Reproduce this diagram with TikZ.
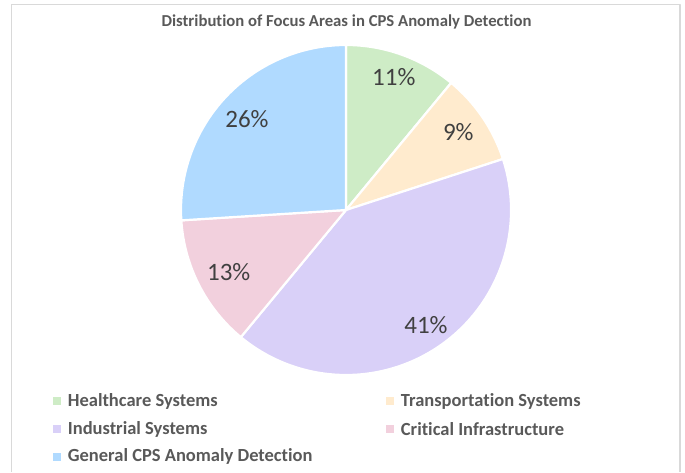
\documentclass[tikz,border=0pt]{standalone}
\usepackage{fontspec}
\setmainfont{Carlito}[Ligatures={NoCommon}]
\usetikzlibrary{positioning}
\definecolor{cHealth}{RGB}{206,236,198}
\definecolor{cTransport}{RGB}{255,235,206}
\definecolor{cIndustrial}{RGB}{217,208,248}
\definecolor{cCritical}{RGB}{242,208,221}
\definecolor{cGeneral}{RGB}{176,218,255}
\definecolor{pctgray}{RGB}{64,64,64}
\definecolor{leggray}{RGB}{89,89,89}
\definecolor{framegray}{RGB}{217,217,217}

\begin{document}
\begin{tikzpicture}[x=1pt,y=-1pt,line join=round,
  slice/.style={draw=white,line width=2.2pt},
  pct/.style={text=pctgray,font=\fontsize{25}{30}\selectfont},
  legsq/.style={minimum size=8pt,inner sep=0pt},
  legtxt/.style={text=leggray,font=\bfseries\fontsize{18.5}{22}\selectfont,inner sep=0pt,right=6.5pt of #1}]
%%
\useasboundingbox (0,0) rectangle (685,472);
\draw [framegray,line width=1.2pt] (11.5,472) -- (11.5,4.5) -- (680,4.5) -- (680,472);
\node (title) at (346.5,22) [text=leggray,font=\bfseries\fontsize{16.7}{20}\selectfont] {Distribution of Focus Areas in CPS Anomaly Detection};
%% pie
\coordinate (pie_c) at (346,210);
\filldraw [slice,fill=cHealth] (pie_c) -- ++(-90:165) arc[start angle=-90,end angle=-50.4,radius=165] -- cycle;
\filldraw [slice,fill=cTransport] (pie_c) -- ++(-50.4:165) arc[start angle=-50.4,end angle=-18,radius=165] -- cycle;
\filldraw [slice,fill=cIndustrial] (pie_c) -- ++(-18:165) arc[start angle=-18,end angle=129.6,radius=165] -- cycle;
\filldraw [slice,fill=cCritical] (pie_c) -- ++(129.6:165) arc[start angle=129.6,end angle=176.4,radius=165] -- cycle;
\filldraw [slice,fill=cGeneral] (pie_c) -- ++(176.4:165) arc[start angle=176.4,end angle=270,radius=165] -- cycle;
\node (pct_health) at (393.8,77.5) [pct] {11\%};
\node (pct_transport) at (458.3,132.3) [pct] {9\%};
\node (pct_industrial) at (426,325.5) [pct] {41\%};
\node (pct_critical) at (228.7,272.3) [pct] {13\%};
\node (pct_general) at (247,119) [pct] {26\%};
%% legend
\node (sq_health) at (57,401) [legsq,fill=cHealth] {};
\node (sq_transport) at (390,401) [legsq,fill=cTransport] {};
\node (sq_industrial) at (57,429) [legsq,fill=cIndustrial] {};
\node (sq_critical) at (390,429) [legsq,fill=cCritical] {};
\node (sq_general) at (57,456.7) [legsq,fill=cGeneral] {};
\node (lg_health) [legtxt=sq_health] {Healthcare Systems};
\node (lg_transport) [legtxt=sq_transport] {Transportation Systems};
\node (lg_industrial) [legtxt=sq_industrial] {Industrial Systems};
\node (lg_critical) [legtxt=sq_critical] {Critical Infrastructure};
\node (lg_general) [legtxt=sq_general] {General CPS Anomaly Detection};
%
\end{tikzpicture}
\end{document}
